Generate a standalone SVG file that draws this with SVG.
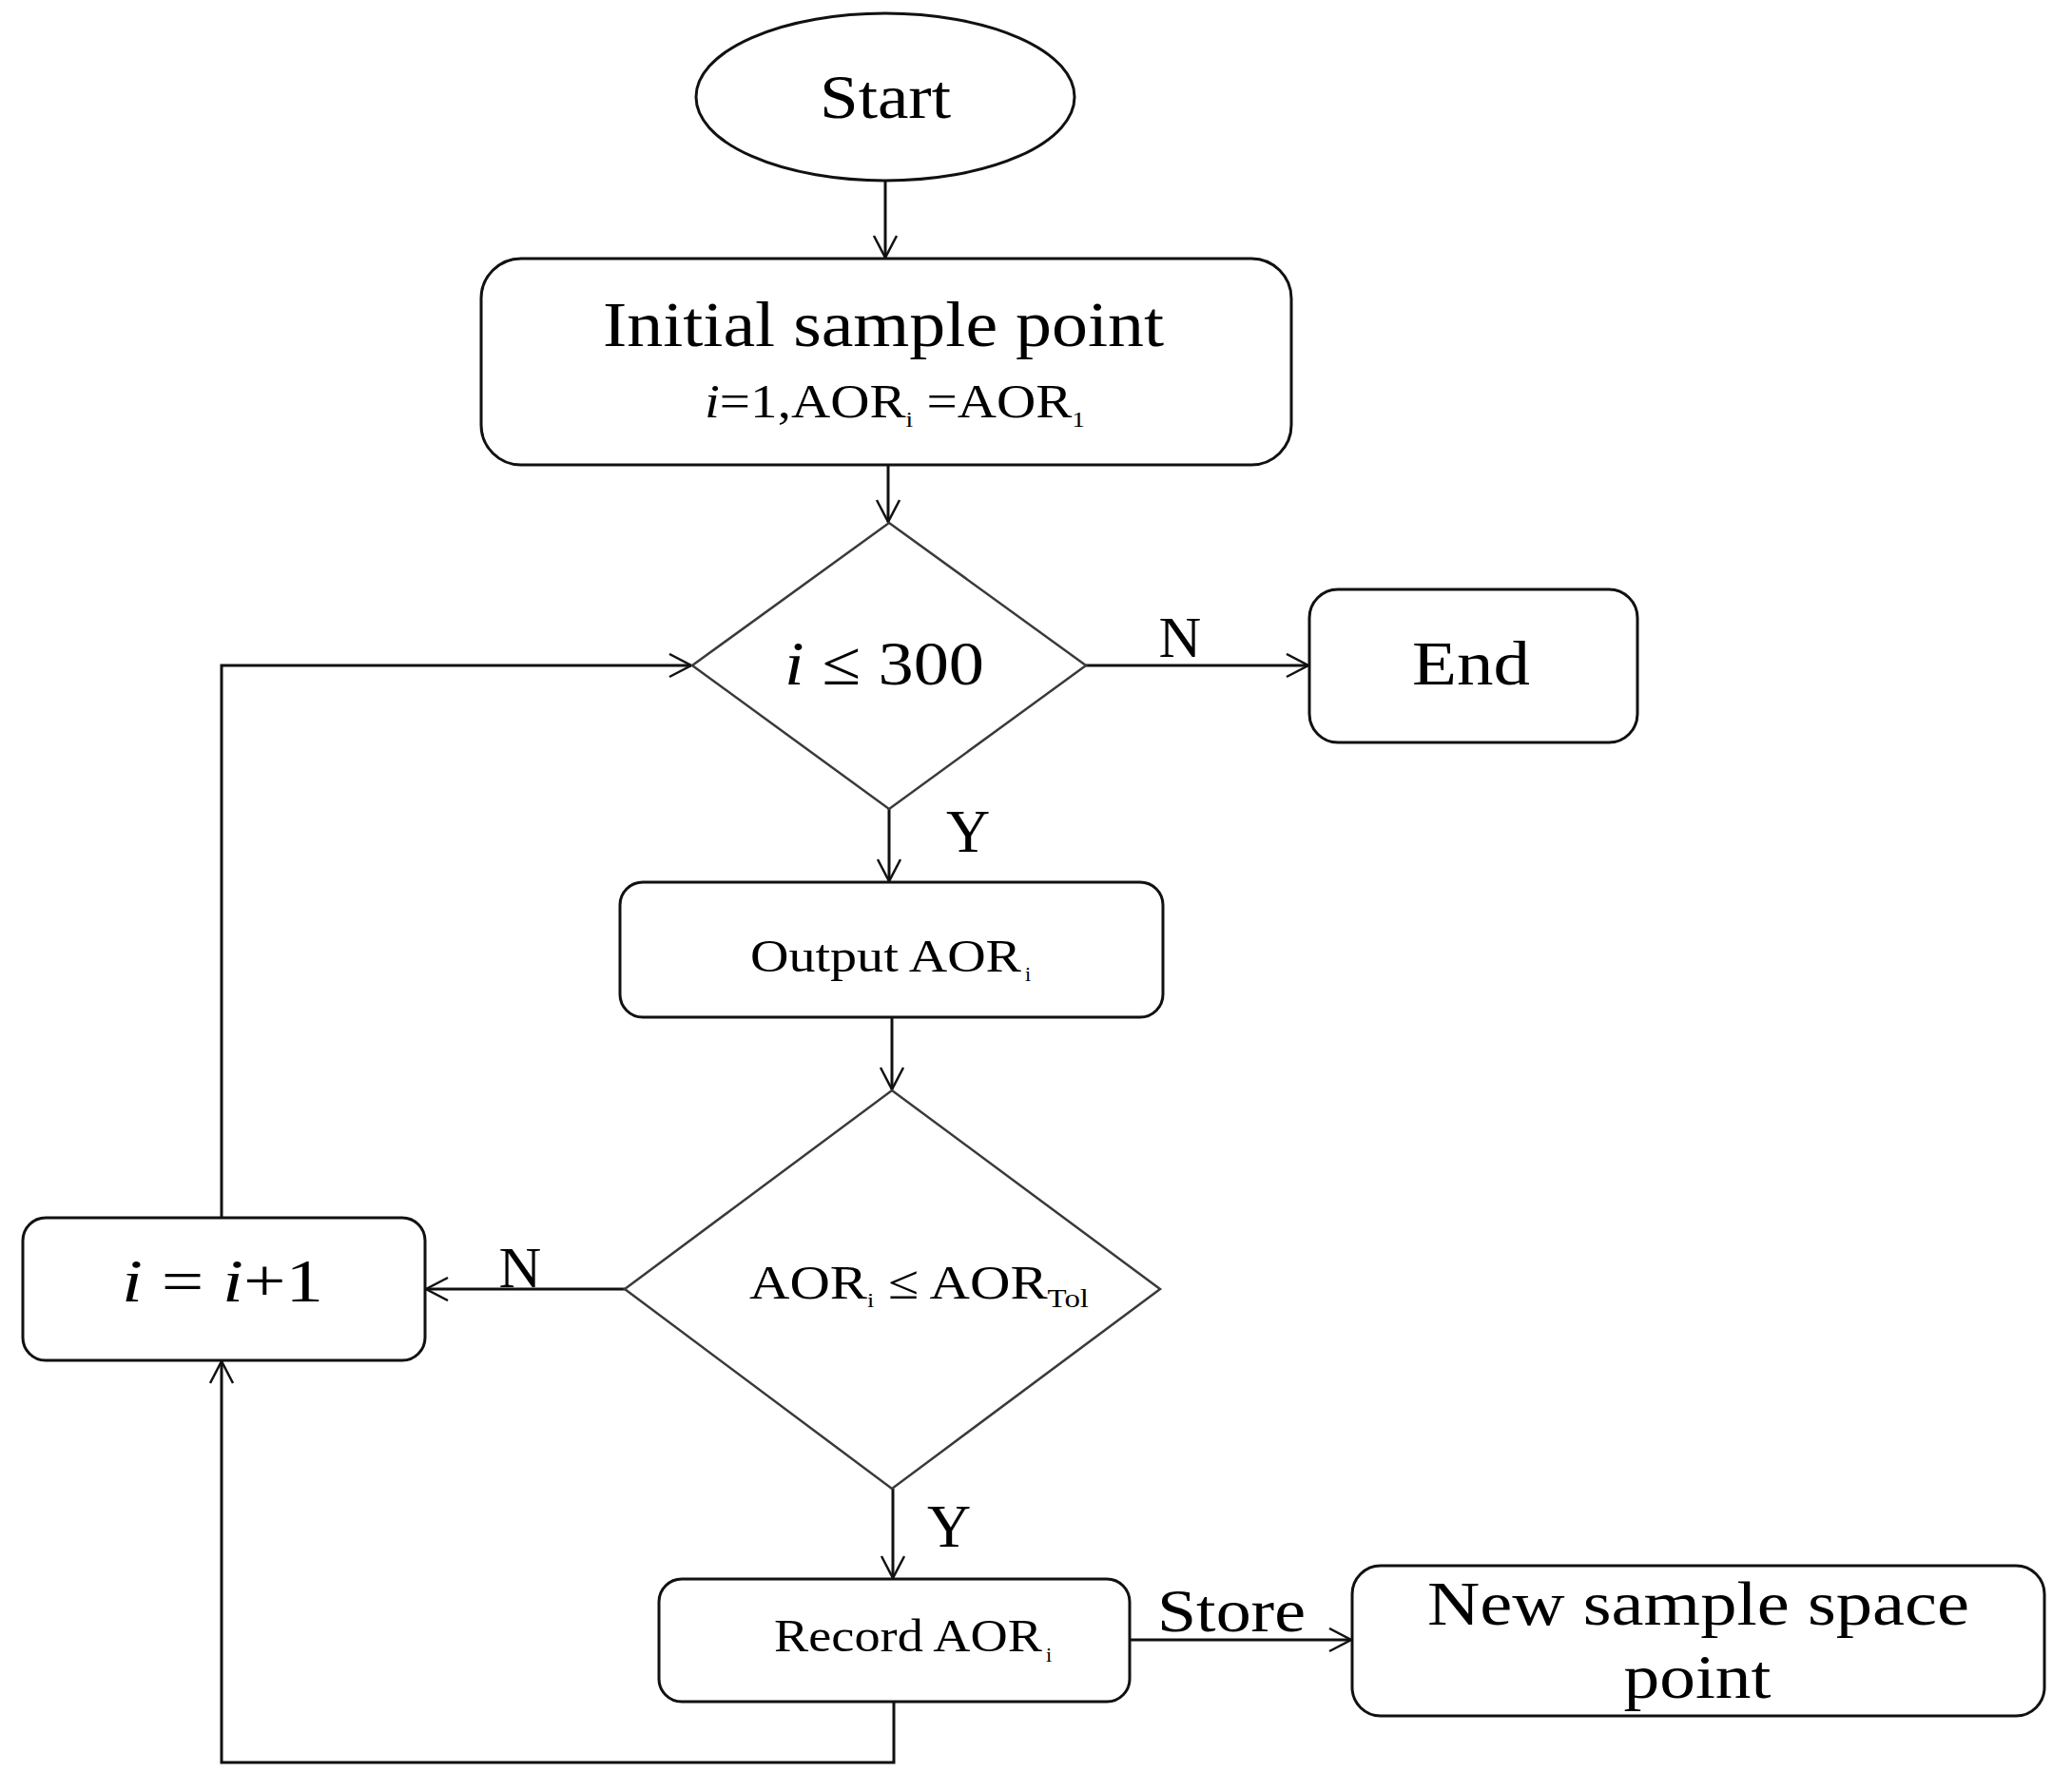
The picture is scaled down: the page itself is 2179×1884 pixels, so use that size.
<svg xmlns="http://www.w3.org/2000/svg" width="2179" height="1884" viewBox="0 0 2179 1884">
<style>
.box{fill:#fff;stroke:#111;stroke-width:3}
.dia{fill:#fff;stroke:#3a3a3a;stroke-width:2.5}
.con{fill:none;stroke:#111;stroke-width:3}
.t{font-family:"Liberation Serif","Times New Roman",serif;fill:#000}
.it{font-style:italic}
</style>
<defs>
<marker id="ah" markerUnits="userSpaceOnUse" markerWidth="30" markerHeight="30" viewBox="0 0 30 30" refX="24" refY="13" orient="auto">
<path d="M1,1 L24,13 L1,25" fill="none" stroke="#111" stroke-width="2.5"/>
</marker>
</defs>
<rect width="2179" height="1884" fill="#fff"/>

<g id="connectors">
<line class="con" x1="931" y1="190" x2="931" y2="271" marker-end="url(#ah)"/>
<line class="con" x1="934" y1="489" x2="934" y2="549" marker-end="url(#ah)"/>
<line class="con" x1="1142" y1="700" x2="1376" y2="700" marker-end="url(#ah)"/>
<line class="con" x1="935" y1="851" x2="935" y2="927" marker-end="url(#ah)"/>
<line class="con" x1="938" y1="1070" x2="938" y2="1146" marker-end="url(#ah)"/>
<line class="con" x1="657" y1="1356" x2="448" y2="1356" marker-end="url(#ah)"/>
<polyline class="con" points="233,1281 233,700 727,700" marker-end="url(#ah)"/>
<line class="con" x1="939" y1="1566" x2="939" y2="1660" marker-end="url(#ah)"/>
<line class="con" x1="1188" y1="1725" x2="1421" y2="1725" marker-end="url(#ah)"/>
<polyline class="con" points="940,1790 940,1854 233,1854 233,1432" marker-end="url(#ah)"/>
<text class="t" x="1241" y="691" font-size="62" text-anchor="middle">N</text>
<text class="t" x="1018" y="896" font-size="64" text-anchor="middle">Y</text>
<text class="t" x="547" y="1354" font-size="62" text-anchor="middle">N</text>
<text class="t" x="998" y="1627" font-size="64" text-anchor="middle">Y</text>
<text class="t" x="1295" y="1716" font-size="64" text-anchor="middle" textLength="156" lengthAdjust="spacingAndGlyphs">Store</text>
</g>

<g id="start">
<ellipse class="box" cx="931" cy="102" rx="199" ry="88"/>
<text class="t" x="931" y="124" font-size="66" text-anchor="middle" textLength="138" lengthAdjust="spacingAndGlyphs">Start</text>
</g>

<g id="init">
<rect class="box" x="506" y="272" width="852" height="217" rx="42"/>
<text class="t" x="929" y="364" font-size="68" text-anchor="middle" textLength="590" lengthAdjust="spacingAndGlyphs">Initial sample point</text>
<text class="t" x="741" y="439" font-size="50" textLength="400" lengthAdjust="spacingAndGlyphs"><tspan class="it">i</tspan>=1,AOR<tspan font-size="24" dy="10">i</tspan><tspan dy="-10"> =AOR</tspan><tspan font-size="24" dy="10">1</tspan></text>
</g>

<g id="cond1">
<polygon class="dia" points="935,550 1142,700 935,851 728,700"/>
<text class="t" x="825" y="720" font-size="66" textLength="210" lengthAdjust="spacingAndGlyphs"><tspan class="it">i</tspan> ≤ 300</text>
</g>

<g id="end">
<rect class="box" x="1377" y="620" width="345" height="161" rx="30"/>
<text class="t" x="1547" y="720" font-size="66" text-anchor="middle" textLength="124" lengthAdjust="spacingAndGlyphs">End</text>
</g>

<g id="output">
<rect class="box" x="652" y="928" width="571" height="142" rx="24"/>
<text class="t" x="789" y="1022" font-size="48" textLength="285" lengthAdjust="spacingAndGlyphs">Output AOR</text>
<text class="t" x="1078" y="1032" font-size="22">i</text>
</g>

<g id="cond2">
<polygon class="dia" points="938,1147 1220,1356 938,1566 657,1356"/>
<text class="t" x="788" y="1366" font-size="50" textLength="357" lengthAdjust="spacingAndGlyphs">AOR<tspan font-size="22" dy="9">i</tspan><tspan dy="-9"> ≤ AOR</tspan><tspan font-size="28" dy="9">Tol</tspan></text>
</g>

<g id="incr">
<rect class="box" x="24" y="1281" width="423" height="150" rx="24"/>
<text class="t" x="128" y="1369" font-size="64" textLength="212" lengthAdjust="spacingAndGlyphs"><tspan class="it">i</tspan> = <tspan class="it">i</tspan>+1</text>
</g>

<g id="record">
<rect class="box" x="693" y="1661" width="495" height="129" rx="24"/>
<text class="t" x="814" y="1737" font-size="48" textLength="282" lengthAdjust="spacingAndGlyphs">Record AOR</text>
<text class="t" x="1100" y="1748" font-size="22">i</text>
</g>

<g id="newsample">
<rect class="box" x="1422" y="1647" width="728" height="158" rx="30"/>
<text class="t" x="1786" y="1709" font-size="66" text-anchor="middle" textLength="570" lengthAdjust="spacingAndGlyphs">New sample space</text>
<text class="t" x="1785" y="1786" font-size="66" text-anchor="middle" textLength="155" lengthAdjust="spacingAndGlyphs">point</text>
</g>
</svg>
